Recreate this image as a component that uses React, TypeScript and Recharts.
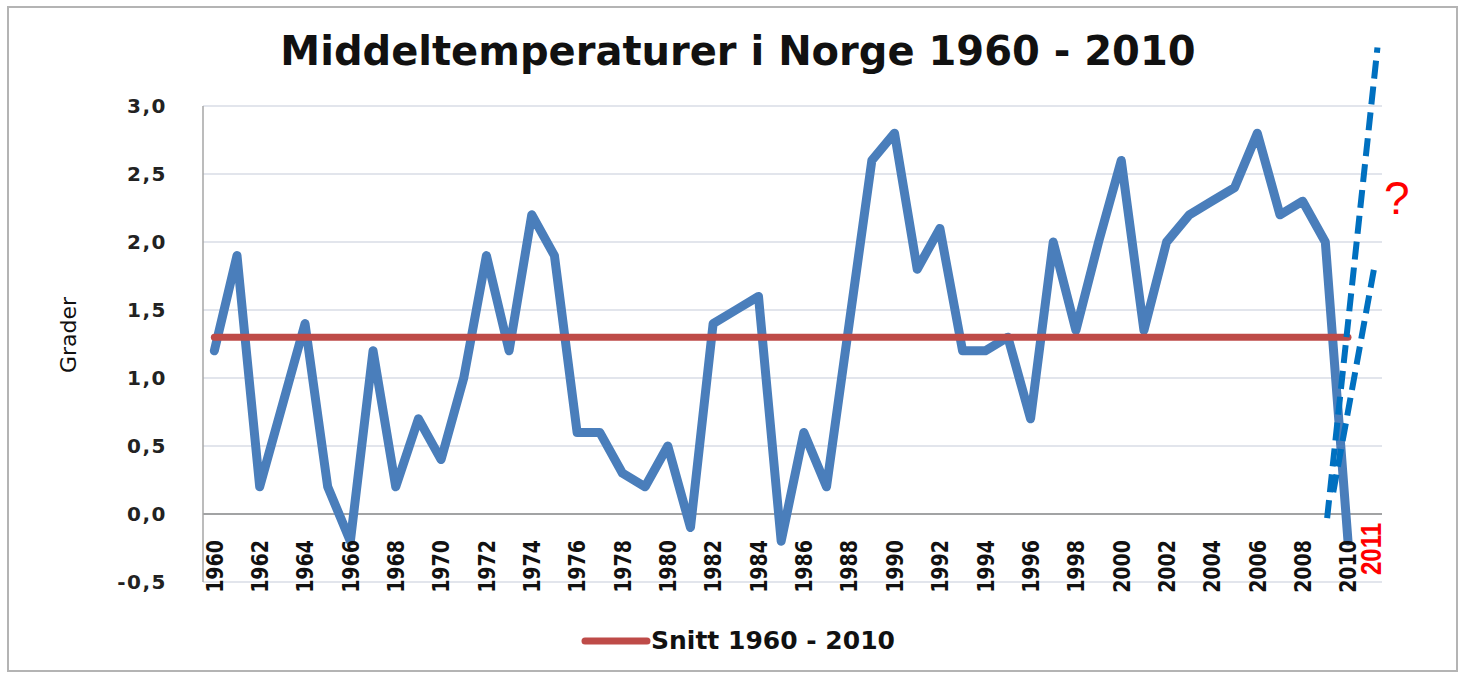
import { LineChart, Line, XAxis, YAxis, CartesianGrid, ReferenceLine, Legend } from "recharts";

const years = [
  1960, 1961, 1962, 1963, 1964, 1965, 1966, 1967, 1968, 1969,
  1970, 1971, 1972, 1973, 1974, 1975, 1976, 1977, 1978, 1979,
  1980, 1981, 1982, 1983, 1984, 1985, 1986, 1987, 1988, 1989,
  1990, 1991, 1992, 1993, 1994, 1995, 1996, 1997, 1998, 1999,
  2000, 2001, 2002, 2003, 2004, 2005, 2006, 2007, 2008, 2009,
  2010,
];

const temperatures = [
  1.2, 1.9, 0.2, 0.8, 1.4, 0.2, -0.2, 1.2, 0.2, 0.7,
  0.4, 1.0, 1.9, 1.2, 2.2, 1.9, 0.6, 0.6, 0.3, 0.2,
  0.5, -0.1, 1.4, 1.5, 1.6, -0.2, 0.6, 0.2, 1.4, 2.6,
  2.8, 1.8, 2.1, 1.2, 1.2, 1.3, 0.7, 2.0, 1.35, 2.0,
  2.6, 1.35, 2.0, 2.2, 2.3, 2.4, 2.8, 2.2, 2.3, 2.0,
  -0.2,
];

// snitt 1960 - 2010
const average = 1.3;

const yTicks = [-0.5, 0, 0.5, 1, 1.5, 2, 2.5, 3];
const xTicks = [
  1960, 1962, 1964, 1966, 1968, 1970, 1972, 1974, 1976, 1978,
  1980, 1982, 1984, 1986, 1988, 1990, 1992, 1994, 1996, 1998,
  2000, 2002, 2004, 2006, 2008, 2010, 2011,
];

// hand drawn "prognosis" strokes
const trendSteep = [{ x: 2009.08, y: -0.03 }, { x: 2011.3, y: 3.43 }];
const trendFlat = [{ x: 2009.35, y: 0.16 }, { x: 2011.2, y: 1.85 }];

const data = years.map((year, i) => ({ year, temp: temperatures[i], snitt: average }));

const FONT = "'DejaVu Sans', sans-serif";
const BLUE = "#4a7ebb";
const RED = "#be4b48";

const fmt = (v: number) => v.toFixed(1).replace(".", ",");

function YTick({ x, y, payload }: any) {
  return (
    <text x={x - 36} y={y} dy="0.35em" textAnchor="end" fontFamily={FONT} fontWeight="bold" fontSize={20} letterSpacing={1.5} fill="#222">
      {fmt(payload.value)}
    </text>
  );
}

function XTick({ x, y, payload }: any) {
  const red = payload.value === 2011;
  const ay = y - (red ? 59 : 42);
  // the original picture is stretched sideways, so widen the rotated glyphs a bit
  return (
    <text
      x={0}
      y={0}
      dy="0.35em"
      transform={`translate(${x} ${ay}) scale(1.25 1) rotate(-90)`}
      textAnchor="end"
      fontFamily={red ? "'Liberation Sans', Arial, sans-serif" : FONT}
      fontWeight="bold"
      fontSize={red ? 24 : 19}
      fill={red ? "#ff0000" : "#111"}
    >
      {payload.value}
    </text>
  );
}

function GraderLabel({ viewBox }: any) {
  const cx = 68;
  const cy = viewBox.y + viewBox.height / 2 - 9;
  return (
    <text x={cx} y={cy} dy="0.35em" textAnchor="middle" transform={`rotate(-90 ${cx} ${cy})`} fontFamily={FONT} fontSize={22} fill="#111">
      Grader
    </text>
  );
}

function SnittLegend({ payload }: any) {
  const items = (payload || []).filter((entry: any) => entry.type !== "none");
  return (
    <div style={{ display: "flex", justifyContent: "center", paddingLeft: 12 }}>
      {items.map((entry: any) => (
        <div key={entry.value} style={{ display: "flex", alignItems: "center" }}>
          <svg width={70} height={12}>
            <line x1={4} y1={6} x2={66} y2={6} stroke={entry.color} strokeWidth={7} strokeLinecap="round" />
          </svg>
          <span style={{ fontFamily: FONT, fontWeight: "bold", fontSize: 25, color: "#111", lineHeight: "30px" }}>{entry.value}</span>
        </div>
      ))}
    </div>
  );
}

export default function App() {
  return (
    <div style={{ position: "absolute", left: 0, top: 0, width: 1464, height: 676, background: "#fff" }}>
      <div style={{ position: "absolute", left: 7, top: 6, width: 1451, height: 666, border: "2px solid #b4b4b4", boxSizing: "border-box" }} />
      <div
        style={{
          position: "absolute",
          left: 0,
          top: 31,
          width: 1464,
          paddingLeft: 12,
          boxSizing: "border-box",
          textAlign: "center",
          fontFamily: FONT,
          fontWeight: "bold",
          fontSize: 40,
          lineHeight: "40px",
          color: "#111",
        }}
      >
        Middeltemperaturer i Norge 1960 - 2010
      </div>
      <LineChart width={1464} height={676} data={data} margin={{ top: 106, right: 82, bottom: 64, left: 0 }} style={{ position: "absolute", left: 0, top: 0 }}>
        <CartesianGrid vertical={false} stroke="#d9dde6" strokeWidth={1.5} />
        <XAxis
          dataKey="year"
          type="number"
          domain={[1959.5, 2011.5]}
          ticks={xTicks}
          interval={0}
          height={30}
          axisLine={false}
          tickLine={false}
          tickSize={0}
          tickMargin={0}
          tick={<XTick />}
        />
        <YAxis
          domain={[-0.5, 3]}
          ticks={yTicks}
          interval={0}
          width={203}
          axisLine={{ stroke: "#a6a6a6", strokeWidth: 1.5 }}
          tickLine={false}
          tickSize={0}
          tickMargin={0}
          tick={<YTick />}
          label={<GraderLabel />}
        />
        <ReferenceLine y={0} stroke="#8c8c8c" strokeWidth={1.5} />
        <Line
          dataKey="temp"
          name="Middeltemperatur"
          stroke={BLUE}
          strokeWidth={9}
          strokeLinejoin="round"
          strokeLinecap="round"
          dot={false}
          activeDot={false}
          legendType="none"
          isAnimationActive={false}
        />
        <Line
          dataKey="snitt"
          name="Snitt 1960 - 2010"
          stroke={RED}
          strokeWidth={7}
          strokeLinecap="round"
          dot={false}
          activeDot={false}
          isAnimationActive={false}
        />
        <ReferenceLine segment={trendSteep} stroke="#0070c0" strokeWidth={6} strokeDasharray="18 8" ifOverflow="visible" />
        <ReferenceLine segment={trendFlat} stroke="#0070c0" strokeWidth={6} strokeDasharray="18 8" ifOverflow="visible" />
        <Legend verticalAlign="middle" align="center" layout="horizontal" wrapperStyle={{ top: 626, left: 0, width: 1464 }} content={<SnittLegend />} />
      </LineChart>
      <div
        style={{
          position: "absolute",
          left: 1384,
          top: 175,
          fontFamily: "'Liberation Sans', Arial, sans-serif",
          fontSize: 46,
          lineHeight: "46px",
          color: "#ff0000",
        }}
      >
        ?
      </div>
    </div>
  );
}
